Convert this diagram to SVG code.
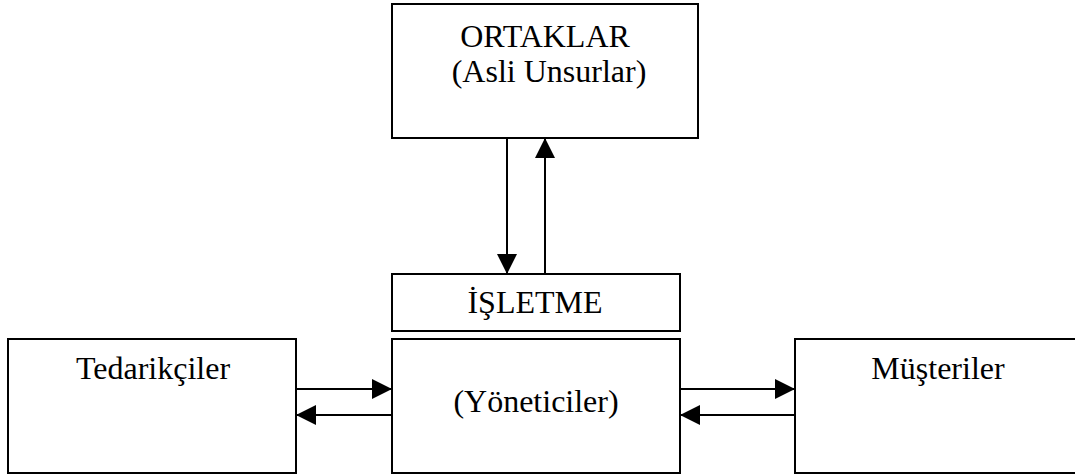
<svg xmlns="http://www.w3.org/2000/svg" width="1075" height="475" viewBox="0 0 1075 475">
<style>
.box{fill:#fff;stroke:#000;stroke-width:2}
.t{font-family:"Liberation Serif","Times New Roman",serif;font-size:32px;fill:#000;text-anchor:middle}
.c{stroke:#000;stroke-width:2;fill:none;marker-end:url(#ah)}
</style>
<defs>
<marker id="ah" viewBox="0 0 20 20" refX="20" refY="10" markerWidth="20" markerHeight="20" markerUnits="userSpaceOnUse" orient="auto">
<path d="M0,0 L20,10 L0,20 Z" fill="#000"/>
</marker>
</defs>
<rect width="1075" height="475" fill="#fff"/>
<g id="ortaklar">
<rect class="box" x="392" y="4" width="306" height="134"/>
<text class="t" x="545" y="47">ORTAKLAR</text>
<text class="t" x="549" y="82">(Asli Unsurlar)</text>
</g>
<g id="isletme">
<rect class="box" x="392" y="274" width="288" height="57"/>
<text class="t" x="535" y="313">İŞLETME</text>
</g>
<g id="yoneticiler">
<rect class="box" x="392" y="339" width="288" height="134"/>
<text class="t" x="536" y="412">(Yöneticiler)</text>
</g>
<g id="tedarikciler">
<rect class="box" x="8" y="339" width="288" height="134"/>
<text class="t" x="153" y="379">Tedarikçiler</text>
</g>
<g id="musteriler">
<rect class="box" x="795" y="339" width="300" height="134"/>
<text class="t" x="938" y="379">Müşteriler</text>
</g>
<g id="connectors">
<line class="c" x1="507" y1="138" x2="507" y2="274"/>
<line class="c" x1="545" y1="274" x2="545" y2="138"/>
<line class="c" x1="296" y1="389" x2="392" y2="389"/>
<line class="c" x1="392" y1="415" x2="296" y2="415"/>
<line class="c" x1="680" y1="389" x2="795" y2="389"/>
<line class="c" x1="795" y1="415" x2="680" y2="415"/>
</g>
</svg>
